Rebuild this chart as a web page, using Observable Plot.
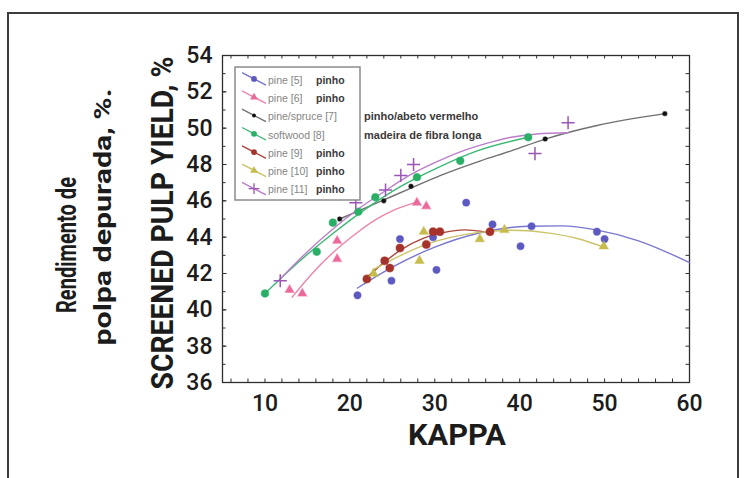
<!DOCTYPE html>
<html><head><meta charset="utf-8">
<script src="https://cdn.jsdelivr.net/npm/d3@7"></script>
<script src="https://cdn.jsdelivr.net/npm/@observablehq/plot@0.6"></script>
<style>
html,body{margin:0;padding:0;background:#fff;overflow:hidden}
#wrap{position:relative;width:745px;height:478px}
#border{position:absolute;left:7px;top:12px;width:728px;height:480px;border:2px solid #3c3c3c;border-bottom:none;pointer-events:none}
#wrap svg{position:absolute;left:0;top:0}
</style></head><body>
<div id="wrap"><div id="border"></div></div>
<script>
// ---- data ----
const seriesNames = ["pine [5]", "pine [6]", "pine/spruce [7]", "softwood [8]", "pine [9]", "pine [10]", "pine [11]"];
const legendBold = ["pinho", "pinho", "", "", "pinho", "pinho", "pinho"];
const legendOutside = ["", "", "pinho/abeto vermelho", "madeira de fibra longa", "", "", ""];

// measured points (kappa, yield %)
const pine5K = [20.9, 24.9, 25.9, 29.8, 30.2, 33.7, 36.8, 40.1, 41.4, 49.1, 50.0];
const pine5Y = [40.8, 41.6, 43.9, 44.0, 42.2, 45.9, 44.7, 43.5, 44.6, 44.3, 43.9];
const pine6K = [12.9, 14.4, 18.5, 18.5, 27.9, 29.0];
const pine6Y = [41.1, 40.9, 43.8, 42.8, 45.9, 45.7];
const spruce7K = [18.8, 24.0, 27.2, 43.0, 57.1];
const spruce7Y = [45.0, 46.0, 46.8, 49.4, 50.8];
const soft8K = [10.0, 16.1, 18.0, 21.0, 23.0, 27.9, 33.0, 41.0];
const soft8Y = [40.9, 43.2, 44.8, 45.4, 46.2, 47.3, 48.2, 49.5];
const pine9K = [22.0, 24.1, 24.7, 25.9, 29.0, 29.8, 30.6, 36.5];
const pine9Y = [41.7, 42.7, 42.3, 43.4, 43.6, 44.3, 44.3, 44.3];
const pine10K = [22.8, 28.2, 28.7, 35.3, 38.2, 49.9];
const pine10Y = [42.0, 42.7, 44.3, 43.9, 44.4, 43.5];
const pine11K = [11.8, 20.7, 24.2, 26.0, 27.5, 41.8, 45.7];
const pine11Y = [41.6, 45.9, 46.6, 47.4, 48.0, 48.6, 50.3];

// fitted curves at a few places
const fit5K = [20.9, 25, 30, 35, 41, 45, 49, 54, 60];
const fit5Y = [41.2, 42.35, 43.45, 44.2, 44.6, 44.62, 44.4, 43.8, 42.6];
const fit6K = [13.2, 15, 17, 19, 21, 23, 25, 27.7];
const fit6Y = [40.7, 41.7, 42.7, 43.55, 44.3, 44.95, 45.45, 45.9];
const fit7K = [18.8, 21.3, 24, 27.2, 30.7, 35.4, 39, 43, 49.1, 57.1];
const fit7Y = [45.0, 45.5, 46.05, 46.7, 47.4, 48.2, 48.75, 49.4, 50.15, 50.8];
const fit8K = [10, 14, 18, 22, 26, 30, 35, 41];
const fit8Y = [40.9, 42.65, 44.2, 45.6, 46.8, 47.75, 48.75, 49.5];
const fit9K = [21.8, 24, 26, 28.7, 31, 33.5, 36.5];
const fit9Y = [41.7, 42.6, 43.3, 43.95, 44.25, 44.4, 44.25];
const fit10K = [22.7, 26, 29, 32, 35, 39, 43, 47, 49.9];
const fit10Y = [42.2, 43.0, 43.6, 44.0, 44.25, 44.38, 44.25, 43.9, 43.45];
const fit11K = [11.8, 15, 18, 21, 24, 27, 30, 33, 36, 39, 42, 45.7];
const fit11Y = [41.7, 43.2, 44.45, 45.55, 46.5, 47.4, 48.1, 48.7, 49.15, 49.5, 49.68, 49.75];

const xTicks = [10, 20, 30, 40, 50, 60];
const yTicks = [36, 38, 40, 42, 44, 46, 48, 50, 52, 54];

// ---- styling ----
const pointColors = ["#5c59c0", "#ec6a9b", "#111111", "#2aaf66", "#a5332b", "#c6bc4c", "#9a56b4"];
const lineColors  = ["#7a77d0", "#ee83ab", "#707070", "#3cb874", "#ad473b", "#ccc468", "#bb7dcb"];
const symbols = ["circle", "triangle", "circle", "circle", "circle", "triangle", "plus"];
const radii = [3.6, 3.3, 2.2, 3.8, 4, 3.4, 4.3];

const zip = (K, Y) => K.map((k, i) => ({k, y: Y[i]}));
const pts = [zip(pine5K, pine5Y), zip(pine6K, pine6Y), zip(spruce7K, spruce7Y), zip(soft8K, soft8Y),
             zip(pine9K, pine9Y), zip(pine10K, pine10Y), zip(pine11K, pine11Y)];
const fits = [zip(fit5K, fit5Y), zip(fit6K, fit6Y), zip(fit7K, fit7Y), zip(fit8K, fit8Y),
              zip(fit9K, fit9Y), zip(fit10K, fit10Y), zip(fit11K, fit11Y)];

const W = 745, H = 478, mL = 222, mR = 56, mT = 55, mB = 96;
const xDom = [5, 60], yDom = [36, 54];
const pxPerX = (W - mL - mR) / (xDom[1] - xDom[0]);
const pxPerY = (H - mT - mB) / (yDom[1] - yDom[0]);
const tl = 3.5; // tick length px
const tx = tl / pxPerX, ty = tl / pxPerY;
const xMinor = d3.range(6, 60, 2);
const yMinor = d3.range(37, 54, 1);

const dotMark = (i) => {
  const o = {x: "k", y: "y", symbol: symbols[i], r: radii[i]};
  if (symbols[i] === "plus") { o.stroke = pointColors[i]; o.strokeWidth = 1.5; }
  else { o.fill = pointColors[i]; o.stroke = pointColors[i]; o.strokeOpacity = 0.45; o.strokeWidth = 1.2; }
  return Plot.dot(pts[i], o);
};

const svg = Plot.plot({
  width: W, height: H, marginLeft: mL, marginRight: mR, marginTop: mT, marginBottom: mB,
  x: {domain: xDom}, y: {domain: yDom},
  style: {background: "transparent", fontFamily: "Roboto, 'Liberation Sans', sans-serif"},
  marks: [
    Plot.frame({stroke: "#2e2e2e", strokeWidth: 1.3}),
    // inward ticks
    Plot.ruleX(xMinor, {x: d => d, y1: yDom[0], y2: yDom[0] + ty, stroke: "#2e2e2e"}),
    Plot.ruleX(xMinor, {x: d => d, y1: yDom[1], y2: yDom[1] - ty, stroke: "#2e2e2e"}),
    Plot.ruleY(yMinor, {y: d => d, x1: xDom[0], x2: xDom[0] + tx, stroke: "#2e2e2e"}),
    Plot.ruleY(yMinor, {y: d => d, x1: xDom[1], x2: xDom[1] - tx, stroke: "#2e2e2e"}),
    Plot.ruleY(yTicks, {y: d => d, x1: xDom[0], x2: xDom[0] + tx * 1.3, stroke: "#2e2e2e"}),
    Plot.axisX(xTicks, {anchor: "bottom", tickSize: 0, tickPadding: 12, label: null,
      fontSize: 23, fontWeight: 500, fill: "#1c1c1c"}),
    Plot.axisY(yTicks, {anchor: "left", tickSize: 0, tickPadding: 10, label: null,
      fontSize: 23, fontWeight: 500, fill: "#1c1c1c"}),
    ...fits.map((f, i) => Plot.line(f, {x: "k", y: "y", stroke: lineColors[i], strokeWidth: 1.4, curve: "monotone-x"})),
    ...pts.map((p, i) => dotMark(i))
  ]
});
document.getElementById("wrap").appendChild(svg);

// ---- axis titles ----
const s = d3.select(svg);
const ttl = (txt, x, y, size, len, rot) => {
  const t = s.append("text").attr("transform", `translate(${x},${y})` + (rot ? " rotate(-90)" : ""))
    .attr("text-anchor", "middle").attr("font-family", "Roboto, 'Liberation Sans', sans-serif")
    .attr("font-weight", "bold").attr("font-size", size).attr("fill", "#1c1c1c").text(txt);
  if (len) t.attr("textLength", len).attr("lengthAdjust", "spacingAndGlyphs");
  return t;
};
ttl("KAPPA", 457, 445, 30, 98, false);
ttl("SCREENED PULP YIELD, %", 173, 223, 31, 333, true);
ttl("Rendimento de", 76, 245, 28, 136, true);
ttl("polpa depurada, %.", 111, 217, 23, 257, true);

// ---- legend ----
const lg = s.append("g").attr("font-family", "'Liberation Sans', Arial, sans-serif").attr("text-anchor", "start");
lg.append("rect").attr("x", 235).attr("y", 67).attr("width", 125).attr("height", 133)
  .attr("fill", "#fff").attr("stroke", "#8c8c8c").attr("stroke-width", 1.5);
seriesNames.forEach((name, i) => {
  const yc = 79.6 + i * 18.3;
  lg.append("line").attr("x1", 242).attr("y1", yc - 7).attr("x2", 266).attr("y2", yc + 5.5)
    .attr("stroke", lineColors[i]).attr("stroke-width", 1.4);
  const sym = d3.symbol().type(symbols[i] === "triangle" ? d3.symbolTriangle :
      symbols[i] === "plus" ? d3.symbolPlus : d3.symbolCircle)
    .size(symbols[i] === "plus" ? 40 : (i === 2 ? 12 : 26));
  const p = lg.append("path").attr("d", sym()).attr("transform", `translate(254,${yc - 0.7})`);
  if (symbols[i] === "plus") p.attr("fill", "none").attr("stroke", pointColors[i]).attr("stroke-width", 1.3);
  else p.attr("fill", pointColors[i]);
  const t = lg.append("text").attr("x", 268).attr("y", yc + 4).attr("font-size", 10.5)
    .attr("text-anchor", "start").attr("fill", "#858585").text(name);
  if (legendBold[i]) {
    const w = t.node().getComputedTextLength();
    lg.append("text").attr("x", Math.max(316, 268 + w + 5)).attr("y", yc + 4).attr("font-size", 10.5)
      .attr("text-anchor", "start").attr("font-weight", "bold").attr("fill", "#3a3a3a").text(legendBold[i]);
  }
  if (legendOutside[i]) {
    lg.append("text").attr("x", 364).attr("y", yc + 4).attr("font-size", 11)
      .attr("text-anchor", "start").attr("font-weight", "bold").attr("fill", "#3a3a3a").text(legendOutside[i]);
  }
});
</script>
</body></html>
